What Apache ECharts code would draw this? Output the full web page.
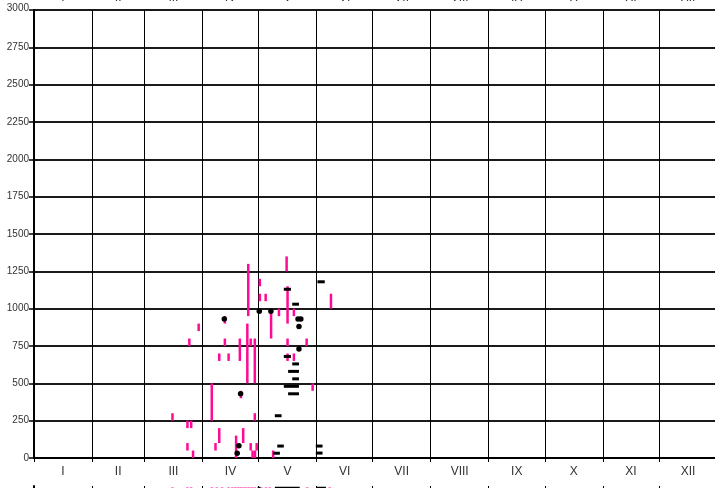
<!DOCTYPE html>
<html><head><meta charset="utf-8">
<script src="https://cdn.jsdelivr.net/npm/echarts@6/dist/echarts.min.js"></script>
<style>html,body{margin:0;padding:0;background:#fff;overflow:hidden}#c{width:715px;height:488px}</style>
</head><body><div id="c"></div>
<script>
// Month axis (day-of-year scale)
const monthLabels = ['I','II','III','IV','V','VI','VII','VIII','IX','X','XI','XII'];
const monthStarts = [0,31,59,90,120,151,181,212,243,273,304,334,365];
const monthMids = [15.5,45,74.5,105,135.5,166,196.5,227.5,258,288.5,319,349.5];
const yMin = 0, yMax = 3000, yStep = 250;

// Pink vertical ranges: day, low, high
const pinkDay  = [74, 82, 84, 82, 85, 83, 88, 102, 102, 99, 104, 95, 99, 97, 114.5, 114, 120.7, 120.7, 123.8, 126.7, 130.9, 110, 115.8, 118, 110.6, 118, 111.8, 108, 115.8, 119, 116.8, 118.1, 127.8, 135, 135.5, 138.9, 135.5, 145.7, 135.5, 138.9, 148.9, 158.7];
const pinkLow  = [250, 200, 200, 50, 0, 750, 850, 900, 750, 650, 650, 250, 100, 50, 950, 500, 1150, 1050, 1050, 800, 950, 650, 750, 500, 400, 250, 100, 0, 50, 50, 0, 0, 0, 1250, 900, 950, 750, 750, 650, 650, 450, 1000];
const pinkHigh = [300, 250, 250, 100, 50, 800, 900, 950, 800, 700, 700, 500, 200, 100, 1300, 900, 1200, 1100, 1100, 980, 1000, 800, 800, 800, 450, 300, 200, 150, 100, 100, 50, 50, 50, 1350, 1150, 1000, 800, 800, 700, 700, 500, 1100];

// Black horizontal dashes: start day, end day, value
const dashStart = [151.5, 133.5, 138, 133.5, 138, 135.8, 138, 133.5, 135.8, 128.7, 130, 127.8, 150.6, 150.6];
const dashEnd   = [155.4, 137.3, 141.6, 137.3, 141.6, 141.6, 141.6, 141.6, 141.6, 132.3, 133.5, 131.4, 154.2, 154.2];
const dashValue = [1180, 1130, 1030, 680, 630, 580, 530, 480, 430, 283, 80, 32, 80, 33];

// Black dots: day, value
const dotDay   = [101.7, 110.4, 120.4, 126.6, 141.1, 142.6, 141.6, 141.6, 109.5, 108.6];
const dotValue = [930, 430, 982, 982, 930, 930, 880, 730, 82, 31];

// Lower panel (only its top edge is visible)
const lowerPinkDay  = [74, 82, 84, 95, 97.7, 100.5, 104, 106, 107.5, 109, 110.5, 112, 113.5, 115, 116.5, 118, 121.5, 124, 126, 146, 158];
const lowerPinkHigh = [2990, 2990, 2990, 2990, 2990, 2990, 2990, 2990, 2990, 2990, 2990, 2990, 2990, 2990, 2990, 2990, 2990, 2990, 2990, 2990, 2990];
const lowerPinkLow  = [2700, 2700, 2700, 2700, 2700, 2700, 2700, 2700, 2700, 2700, 2700, 2700, 2700, 2700, 2700, 2700, 2700, 2700, 2700, 2700, 2700];
const lowerDashStart = [119.5, 128.7, 151];
const lowerDashEnd   = [121, 142, 156];
const lowerDashValue = [2985, 2985, 2985];

const PINK = '#ff0a96';
const FONT = 'Liberation Sans';

const pinkData = pinkDay.map((d, i) => [d, pinkLow[i], pinkHigh[i]]);
const dashData = dashStart.map((s, i) => [s, dashEnd[i], dashValue[i]]);
const dotData = dotDay.map((d, i) => [d, dotValue[i]]);
const lowerPinkData = lowerPinkDay.map((d, i) => [d, lowerPinkLow[i], lowerPinkHigh[i]]);
const lowerDashData = lowerDashStart.map((s, i) => [s, lowerDashEnd[i], lowerDashValue[i]]);

function vbar(params, api) {
  const p1 = api.coord([api.value(0), api.value(1)]);
  const p2 = api.coord([api.value(0), api.value(2)]);
  return {type: 'line', shape: {x1: p1[0], y1: p1[1], x2: p2[0], y2: p2[1]},
          style: {stroke: PINK, lineWidth: 2.5}};
}
function hdash(params, api) {
  const p1 = api.coord([api.value(0), api.value(2)]);
  const p2 = api.coord([api.value(1), api.value(2)]);
  return {type: 'line', shape: {x1: p1[0], y1: p1[1], x2: p2[0], y2: p2[1]},
          style: {stroke: '#000', lineWidth: 3}};
}
const monthFmt = v => { const i = monthMids.indexOf(v); return i >= 0 ? monthLabels[i] : ''; };

const chart = echarts.init(document.getElementById('c'), null, {renderer: 'canvas'});
chart.setOption({
  animation: false,
  backgroundColor: '#fff',
  textStyle: {fontFamily: FONT},
  grid: [
    {left: 34, top: 10, width: 683, height: 448, containLabel: false, outerBoundsMode: 'none'},
    {left: 34, top: 486, width: 683, height: 448, containLabel: false, outerBoundsMode: 'none'}
  ],
  xAxis: [
    {gridIndex: 0, type: 'value', min: 0, max: 365, position: 'bottom',
     axisLine: {show: true, lineStyle: {color: '#000', width: 2}},
     axisTick: {show: true, customValues: monthStarts, length: 4, lineStyle: {color: '#000', width: 1}},
     axisLabel: {customValues: monthMids, formatter: monthFmt, margin: 8, fontSize: 12, color: '#333', fontFamily: FONT},
     splitLine: {show: true, lineStyle: {color: '#000', width: 1}}},
    {gridIndex: 0, type: 'value', min: 0, max: 365, position: 'top',
     axisLine: {show: false}, axisTick: {show: false}, splitLine: {show: false},
     axisLabel: {customValues: monthMids, formatter: monthFmt, margin: 6, fontSize: 12, color: '#333', fontFamily: FONT}},
    {gridIndex: 1, type: 'value', min: 0, max: 365, position: 'top',
     axisLine: {show: true, lineStyle: {color: '#000', width: 1.5}},
     axisTick: {show: true, customValues: monthStarts, length: 4, lineStyle: {color: '#000', width: 1}},
     axisLabel: {show: false},
     splitLine: {show: true, lineStyle: {color: '#000', width: 1}}}
  ],
  yAxis: [
    {gridIndex: 0, type: 'value', min: yMin, max: yMax, interval: yStep,
     axisLine: {show: true, lineStyle: {color: '#000', width: 2}},
     axisTick: {show: true, length: 5, lineStyle: {color: '#000', width: 1.5}},
     axisLabel: {margin: 5, fontSize: 10, color: '#333', fontFamily: FONT,
       formatter: v => v === yMax ? '{t|' + v + '}' : String(v),
       rich: {t: {fontSize: 10, color: '#333', fontFamily: FONT, padding: [0, 0, 4, 0]}}},
     splitLine: {show: true, lineStyle: {color: '#1a1a1a', width: 2}}},
    {gridIndex: 1, type: 'value', min: yMin, max: yMax, interval: yStep,
     axisLine: {show: true, lineStyle: {color: '#000', width: 2}},
     axisTick: {show: false}, axisLabel: {show: false}, splitLine: {show: false}}
  ],
  series: [
    {type: 'custom', xAxisIndex: 0, yAxisIndex: 0, data: pinkData, renderItem: vbar, z: 3},
    {type: 'custom', xAxisIndex: 0, yAxisIndex: 0, data: dashData, renderItem: hdash, z: 4},
    {type: 'scatter', xAxisIndex: 0, yAxisIndex: 0, data: dotData, symbol: 'circle', symbolSize: 5.5,
     itemStyle: {color: '#000', opacity: 1}, z: 5},
    {type: 'custom', xAxisIndex: 2, yAxisIndex: 1, data: lowerPinkData, renderItem: vbar, z: 3},
    {type: 'custom', xAxisIndex: 2, yAxisIndex: 1, data: lowerDashData, renderItem: hdash, z: 4}
  ]
});
</script></body></html>
